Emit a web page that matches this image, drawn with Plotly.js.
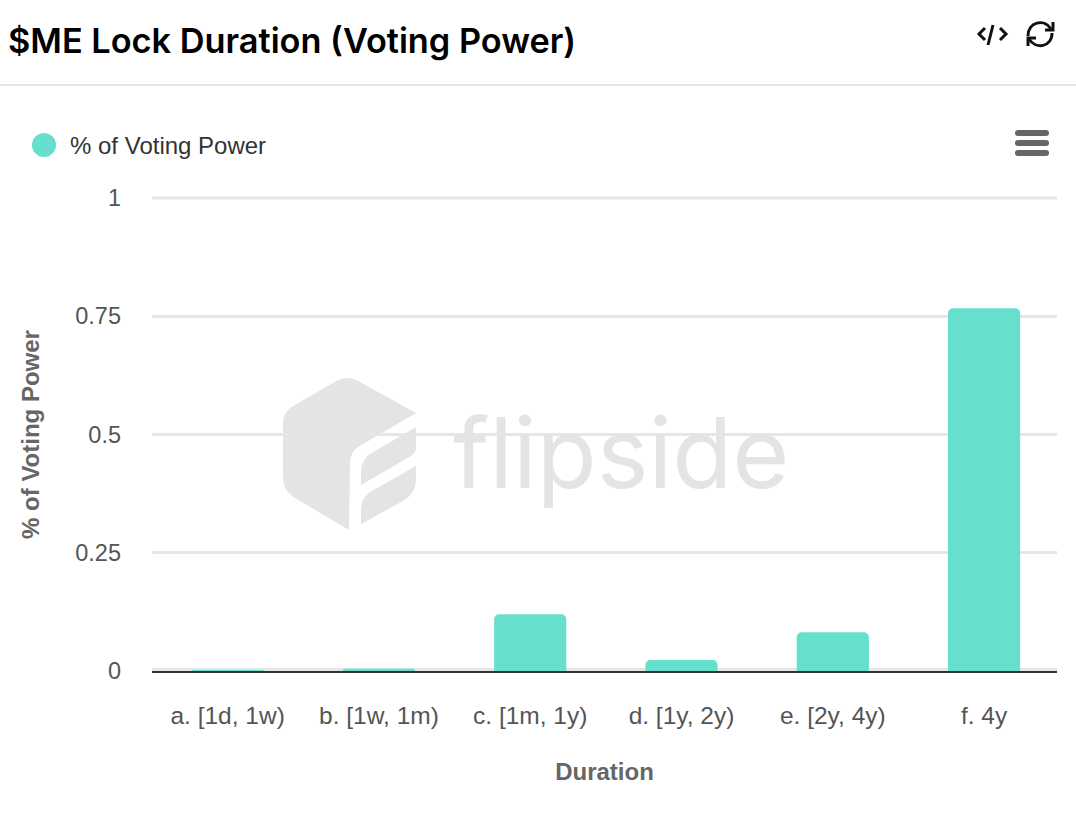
<!DOCTYPE html>
<html>
<head>
<meta charset="utf-8">
<script src="https://cdn.plot.ly/plotly-3.0.1.min.js"></script>
<style>html,body{margin:0;padding:0;background:#fff;overflow:hidden}#chart{width:1076px;height:814px}</style>
</head>
<body>
<div id="chart"></div>
<script>
const chartTitle = "$ME Lock Duration (Voting Power)";
const seriesName = "% of Voting Power";
const xAxisTitle = "Duration";
const durations = ["a. [1d, 1w)", "b. [1w, 1m)", "c. [1m, 1y)", "d. [1y, 2y)", "e. [2y, 4y)", "f. 4y"];
const votingPower = [0.0005, 0.005, 0.12, 0.023, 0.082, 0.767];
const yTickValues = [0, 0.25, 0.5, 0.75, 1];
const yTickLabels = ["0", "0.25", "0.5", "0.75", "1"];

const W = 1076, H = 814, L = 152, R = 1057, T = 198, B = 671;
const px = x => (x - L) / (R - L);
const py = y => (B - y) / (B - T);
function pth(cmds) {
  return cmds.map(c => c[0] + c.slice(1).map((v, i) => i % 2 === 0 ? px(v).toFixed(5) : py(v).toFixed(5)).reduce((a, b, i) => a + (i % 2 ? "," : (i ? " " : "")) + b, "")).join(" ");
}
function fillShape(cmds, color) {
  return {type: "path", xref: "paper", yref: "paper", layer: "below", path: pth(cmds) + " Z", fillcolor: color, line: {width: 0}};
}
function strokeShape(cmds, color, w) {
  return {type: "path", xref: "paper", yref: "paper", layer: "above", path: pth(cmds), line: {color: color, width: w}};
}
const wm = "#e4e4e4", ic = "#111111", bar = "#66dfcc", menu = "#666666", grid = "#e6e6e6";
const shapes = [
  // header rule
  {type: "line", xref: "paper", yref: "paper", x0: px(0), x1: px(W), y0: py(85), y1: py(85), line: {color: "#e3e6e6", width: 2}},
  // gridlines on the plot edges, which the axis leaves out
  {type: "line", xref: "paper", yref: "paper", layer: "below", x0: 0, x1: 1, y0: 1, y1: 1, line: {color: grid, width: 3}},
  {type: "line", xref: "paper", yref: "paper", layer: "below", x0: 0, x1: 1, y0: py(669.5), y1: py(669.5), line: {color: grid, width: 3}},
  // watermark hexagon
  fillShape([["M",348,378],["Q",353,378,360,382],["L",416,413],["L",358,447],["Q",350,452,350,463],["L",349,530],["L",295,498],["Q",283,491,283,477],["L",283,423],["Q",283,411,295,405],["L",338,380],["Q",343,378,348,378]], wm),
  fillShape([["M",416,427],["L",416,447],["Q",416,453,411,456],["L",361,485],["L",361,472],["Q",361,460,370,454]], wm),
  fillShape([["M",416,466],["L",416,480],["Q",416,493,403,501],["L",361,524],["L",361,510],["Q",361,498,370,492]], wm),
  // code icon
  strokeShape([["M",985,28],["L",979,34],["L",985,40]], ic, 3),
  strokeShape([["M",993,25],["L",988,45]], ic, 3),
  strokeShape([["M",1000,28],["L",1006,34],["L",1000,40]], ic, 3),
  // refresh icon
  strokeShape([["M",1028,36],["C",1028,22,1044,18,1051,29]], ic, 3),
  strokeShape([["M",1053,22],["L",1053,30],["L",1045,30]], ic, 3),
  strokeShape([["M",1052,33],["C",1052,47,1036,50,1029,39]], ic, 3),
  strokeShape([["M",1028,46],["L",1028,38],["L",1036,38]], ic, 3),
  // menu icon
  ...[133, 143, 153].map(y => ({type: "line", xref: "paper", yref: "paper", layer: "above", x0: px(1018), x1: px(1046), y0: py(y), y1: py(y), line: {color: menu, width: 6}})),
  ...[133, 143, 153].flatMap(y => [1018, 1046].map(x => ({type: "circle", xref: "paper", yref: "paper", layer: "above", x0: px(x - 3), x1: px(x + 3), y0: py(y + 3), y1: py(y - 3), fillcolor: menu, line: {width: 0}}))),
  // legend dot
  {type: "circle", xref: "paper", yref: "paper", layer: "above", x0: px(32), x1: px(56), y0: py(157), y1: py(133), fillcolor: bar, line: {width: 0}}
];

const sans = '"Liberation Sans", Arial, sans-serif';
const traces = [
  {type: "bar", x: durations, y: votingPower, name: seriesName, showlegend: false, width: 0.477, marker: {color: bar, cornerradius: 5, line: {width: 0}}, hoverinfo: "x+y"},
  {type: "scatter", mode: "markers", x: [null], y: [null], name: seriesName, marker: {color: bar, size: 10, symbol: "circle"}, showlegend: true, hoverinfo: "skip"}
];
const layout = {
  width: W, height: H,
  margin: {l: L, r: W - R, t: T, b: H - B, pad: 0},
  paper_bgcolor: "#ffffff", plot_bgcolor: "#ffffff",
  font: {family: sans, color: "#444444"},
  title: {text: chartTitle, x: 8 / W, xref: "container", xanchor: "left", y: 1 - 41 / H, yref: "container", yanchor: "middle", font: {family: 'Inter, sans-serif', size: 34.3, weight: 600, color: "#000000"}},
  showlegend: true,
  legend: {x: px(30), y: py(145), xanchor: "left", yanchor: "middle", bgcolor: "rgba(0,0,0,0)", font: {size: 24, color: "#333333", family: sans}, itemwidth: 30, borderwidth: 0},
  bargap: 0.52,
  xaxis: {
    type: "category", categoryorder: "array", categoryarray: durations, range: [-0.5, 5.482],
    showgrid: false, zeroline: false, showline: true, linecolor: "#333333", linewidth: 2, ticks: "",
    tickfont: {size: 24.5, color: "#555555", family: sans}, ticklabelstandoff: 22,
    title: {text: xAxisTitle, standoff: 35, font: {size: 24, color: "#666666", family: sans, weight: 700}}
  },
  yaxis: {
    range: [0, 1], tickmode: "array", tickvals: yTickValues, ticktext: yTickLabels,
    showgrid: true, gridcolor: grid, gridwidth: 3, zeroline: false, showline: false, ticks: "",
    tickfont: {size: 23.5, color: "#555555", family: sans}, ticklabelstandoff: 30,
    title: {text: seriesName, standoff: 28, font: {size: 24, color: "#666666", family: sans, weight: 700}}
  },
  shapes: shapes,
  annotations: [
    {text: "flipside", xref: "paper", yref: "paper", x: px(621), y: py(452), xanchor: "center", yanchor: "middle", showarrow: false, font: {family: 'Inter, sans-serif', size: 98, weight: 400, color: wm}}
  ]
};
Plotly.newPlot("chart", traces, layout, {displayModeBar: false, responsive: false});
</script>
</body>
</html>
